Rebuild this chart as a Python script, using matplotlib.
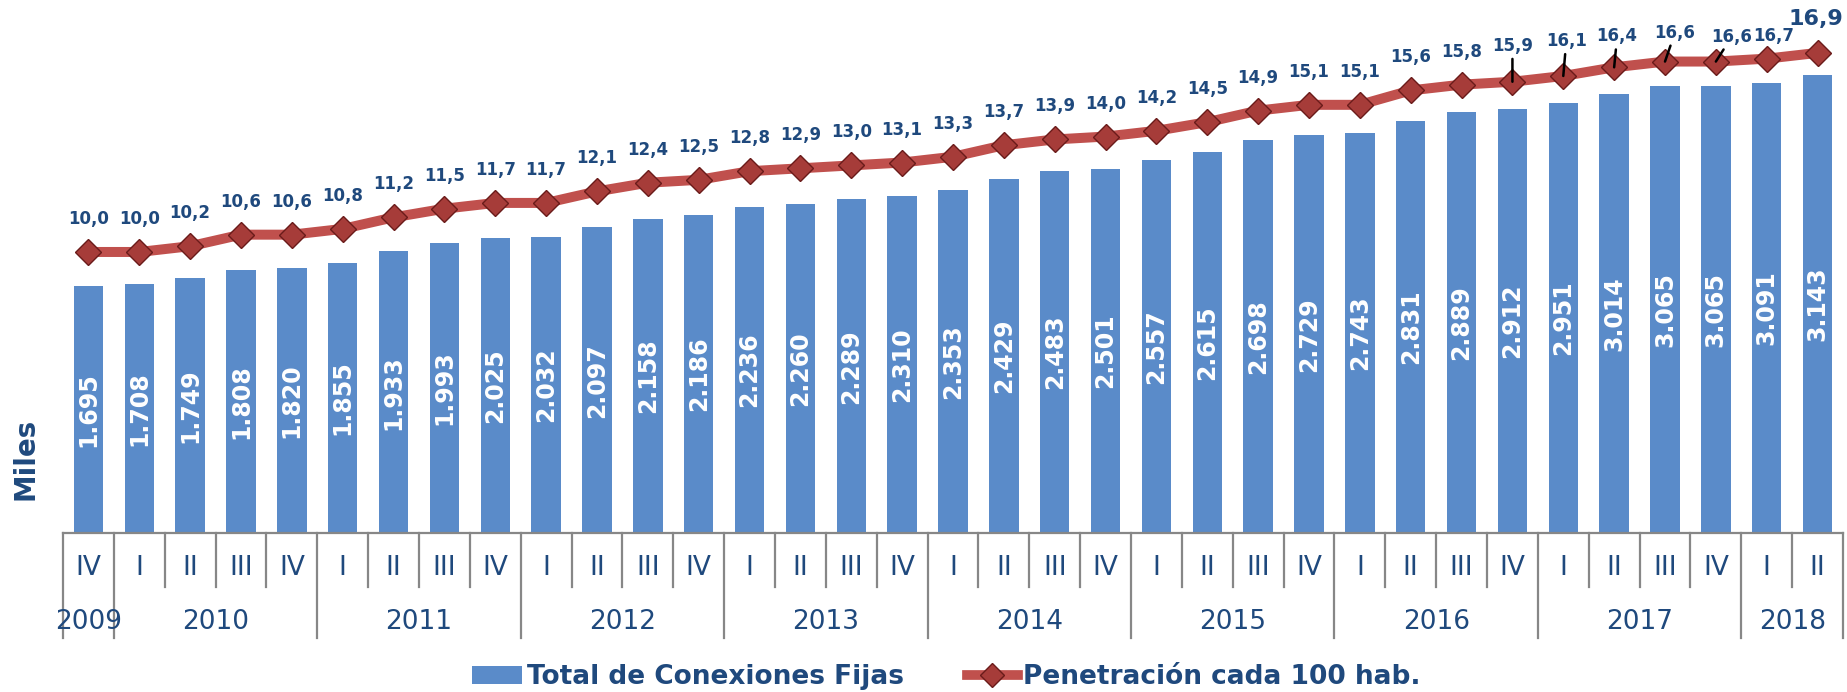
#!/usr/bin/env python3

import numpy as np
import matplotlib
matplotlib.use('Agg')
import matplotlib.pyplot as plt
from matplotlib.patches import Patch
from matplotlib.lines import Line2D

# --- data ---
quarters = ['IV',
            'I', 'II', 'III', 'IV',
            'I', 'II', 'III', 'IV',
            'I', 'II', 'III', 'IV',
            'I', 'II', 'III', 'IV',
            'I', 'II', 'III', 'IV',
            'I', 'II', 'III', 'IV',
            'I', 'II', 'III', 'IV',
            'I', 'II', 'III', 'IV',
            'I', 'II']
years      = ['2009', '2010', '2011', '2012', '2013', '2014', '2015', '2016', '2017', '2018']
year_count = [1, 4, 4, 4, 4, 4, 4, 4, 4, 2]

conexiones = [1695, 1708, 1749, 1808, 1820, 1855, 1933, 1993, 2025, 2032,
              2097, 2158, 2186, 2236, 2260, 2289, 2310, 2353, 2429, 2483,
              2501, 2557, 2615, 2698, 2729, 2743, 2831, 2889, 2912, 2951,
              3014, 3065, 3065, 3091, 3143]
penetracion = [10.0, 10.0, 10.2, 10.6, 10.6, 10.8, 11.2, 11.5, 11.7, 11.7,
               12.1, 12.4, 12.5, 12.8, 12.9, 13.0, 13.1, 13.3, 13.7, 13.9,
               14.0, 14.2, 14.5, 14.9, 15.1, 15.1, 15.6, 15.8, 15.9, 16.1,
               16.4, 16.6, 16.6, 16.7, 16.9]

# --- style ---
W, H = 1847, 692
dpi = 100
blue  = '#5A8BC9'
red   = '#C0504D'
navy  = '#1F497D'
gray  = '#878787'

fig = plt.figure(figsize=(W/dpi, H/dpi), dpi=dpi)
ax = fig.add_axes([63/W, (H-533)/H, 1780/W, 513/H])
ax2 = ax.twinx()

x = np.arange(len(conexiones))

# bars
ax.bar(x, conexiones, width=0.58, color=blue, zorder=2)
for xi, v in zip(x, conexiones):
    ax.text(xi, v/2, '{:.3f}'.format(v/1000), rotation=90, ha='center', va='center',
            color='white', fontsize=17, fontweight='bold', zorder=3)

ax.set_xlim(-0.5, len(x)-0.5)
ax.set_ylim(0, 3521)

# line
ax2.plot(x, penetracion, color=red, lw=7.2, solid_joinstyle='round', zorder=3)
ax2.plot(x, penetracion, ls='none', marker='D', ms=13, mfc='#A63C39',
         mec='#6A1B1A', mew=1.0, zorder=4)
ax2.set_ylim(0.26, 18.04)

# label offsets (pixels) for the crowded ones at the end
offs = {28: (0, 36), 29: (3, 35), 30: (3, 31), 31: (10, 29), 32: (16, 25),
        33: (7, 23), 34: (-2, 34)}
leaders = [28, 29, 30, 31, 32]
for xi, v in zip(x, penetracion):
    dx, dy = offs.get(xi, (0, 33))
    fs = 16 if xi == len(x)-1 else 12
    s = '{:.1f}'.format(v).replace('.', ',')
    if xi in leaders:
        ax2.annotate(s, (xi, v), xytext=(dx, dy), textcoords='offset pixels',
                     ha='center', va='center', color=navy, fontsize=fs,
                     fontweight='bold', zorder=6,
                     arrowprops=dict(arrowstyle='-', color='black', lw=1.8,
                                     shrinkA=1, shrinkB=0))
    else:
        ax2.annotate(s, (xi, v), xytext=(dx, dy), textcoords='offset pixels',
                     ha='center', va='center', color=navy, fontsize=fs,
                     fontweight='bold', zorder=6)

for a in (ax, ax2):
    for sp in ['top', 'right', 'left']:
        a.spines[sp].set_visible(False)
    a.set_yticks([])
    a.set_xticks([])
ax2.spines['bottom'].set_visible(False)
ax.spines['bottom'].set_color(gray)
ax.spines['bottom'].set_linewidth(1.6)

# multi-level category axis
tr = ax.get_xaxis_transform()
q_depth = -54/513
y_depth = -105/513
bounds = [-0.5]
for c in year_count:
    bounds.append(bounds[-1] + c)
for b in np.arange(-0.5, len(x), 1.0):
    d = y_depth if b in bounds else q_depth
    ax.plot([b, b], [0, d], transform=tr, color=gray, lw=1.6, clip_on=False)

for xi, q in zip(x, quarters):
    ax.text(xi, -35/513, q, transform=tr, ha='center', va='center',
            color=navy, fontsize=19)
for i, yr in enumerate(years):
    xc = (bounds[i] + bounds[i+1]) / 2
    ax.text(xc, -89/513, yr, transform=tr, ha='center', va='center',
            color=navy, fontsize=19)

fig.text(25/W, 1-459/H, 'Miles', rotation=90, ha='center', va='center',
         color=navy, fontsize=20, fontweight='bold')

handles = [Patch(facecolor=blue),
           Line2D([], [], color=red, lw=7, marker='D', ms=12, mfc='#A63C39', mec='#6A1B1A')]
labels = ['Total de Conexiones Fijas', 'Penetración cada 100 hab.']
leg = fig.legend(handles, labels, loc='center', bbox_to_anchor=(946/W, 1-677/H),
                 ncol=2, frameon=False, prop={'size': 19, 'weight': 'bold'},
                 labelcolor=navy, handlelength=1.9, handletextpad=0.2,
                 columnspacing=2.4)

fig.savefig('out.png', dpi=dpi)
plt.close()
